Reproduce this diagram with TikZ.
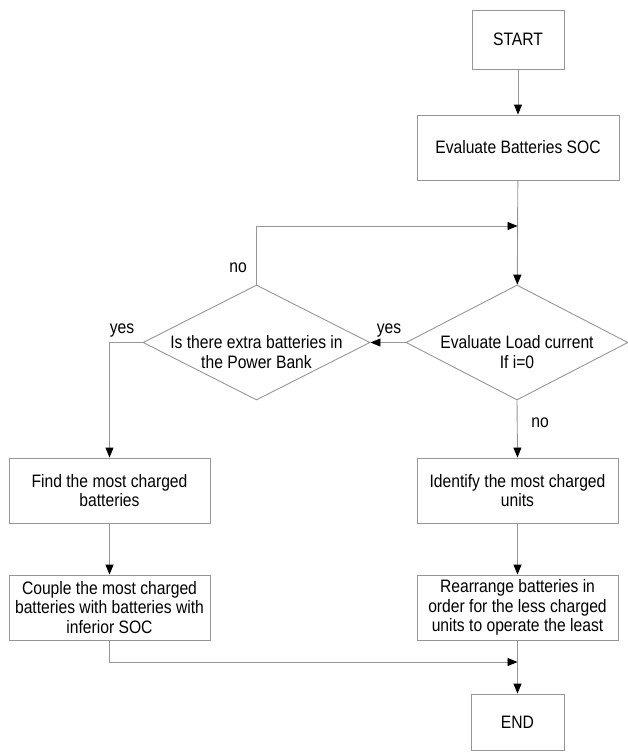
\documentclass[tikz,border=0pt]{standalone}
\usepackage{fontspec}
\setmainfont[FakeStretch=0.87]{Liberation Sans}
\usetikzlibrary{shapes.geometric}
\usetikzlibrary{arrows.meta}
\definecolor{linegray}{RGB}{150,150,150}

\begin{document}
\begin{tikzpicture}[x=1pt,y=-1pt,
  box/.style={draw=linegray,line width=0.9pt,rectangle,minimum width=201pt,minimum height=65pt,inner sep=0pt,align=center},
  decision/.style={draw=linegray,line width=0.9pt,diamond,minimum height=115pt,inner sep=0pt},
  flow/.style={draw=linegray,line width=0.9pt,-{Triangle[length=10pt,width=8pt,color=black]}},
  every node/.style={font=\fontsize{18}{19.5}\selectfont}]
  \useasboundingbox (0,0) rectangle (628,752);

  \node[box,minimum width=92pt,minimum height=59pt] (start) at (518,39.5) {START};
  \node[box,minimum width=202pt] (evalsoc) at (518,147.5) {Evaluate Batteries SOC};
  \node[decision,minimum width=222pt] (evalload) at (517,342.5) {};
  \node[align=center] (evalloadtext) at (517,352) {Evaluate Load current\\If i=0};
  \node[decision,minimum width=227pt] (extra) at (256.5,342.5) {};
  \node[align=center] (extratext) at (256.5,352) {Is there extra batteries in\\the Power Bank};
  \node[box] (find) at (109.5,490.5) {Find the most charged\\batteries};
  \node[box] (identify) at (517.5,490.5) {Identify the most charged\\units};
  \node[box] (couple) at (109.5,607.5) {Couple the most charged\\batteries with batteries with\\inferior SOC};
  \node[box] (rearrange) at (517.5,607.5) {Rearrange batteries in\\order for the less charged\\units to operate the least};
  \node[box,minimum width=93pt,minimum height=56pt] (end) at (517.5,722) {END};

  \coordinate (loopin) at (517.5,226);
  \coordinate (joinin) at (517.5,662);

  \draw[flow] (start) -- (evalsoc);
  \draw[flow] (evalsoc) -- (evalload);
  \draw[flow] (extra.north) |- (loopin);
  \draw[flow] (evalload.west) -- (extra.east);
  \draw[flow] (extra.west) -| (find.north);
  \draw[flow] (evalload.south) -- (identify.north);
  \draw[flow] (find) -- (couple);
  \draw[flow] (identify) -- (rearrange);
  \draw[flow] (couple.south) |- (joinin);
  \draw[flow] (rearrange) -- (end);

  \node (noup) at (238,267.5) {no};
  \node (yesleft) at (122,331) {yes};
  \node (yesright) at (389,331) {yes};
  \node (nodown) at (540,423) {no};
\end{tikzpicture}
\end{document}
